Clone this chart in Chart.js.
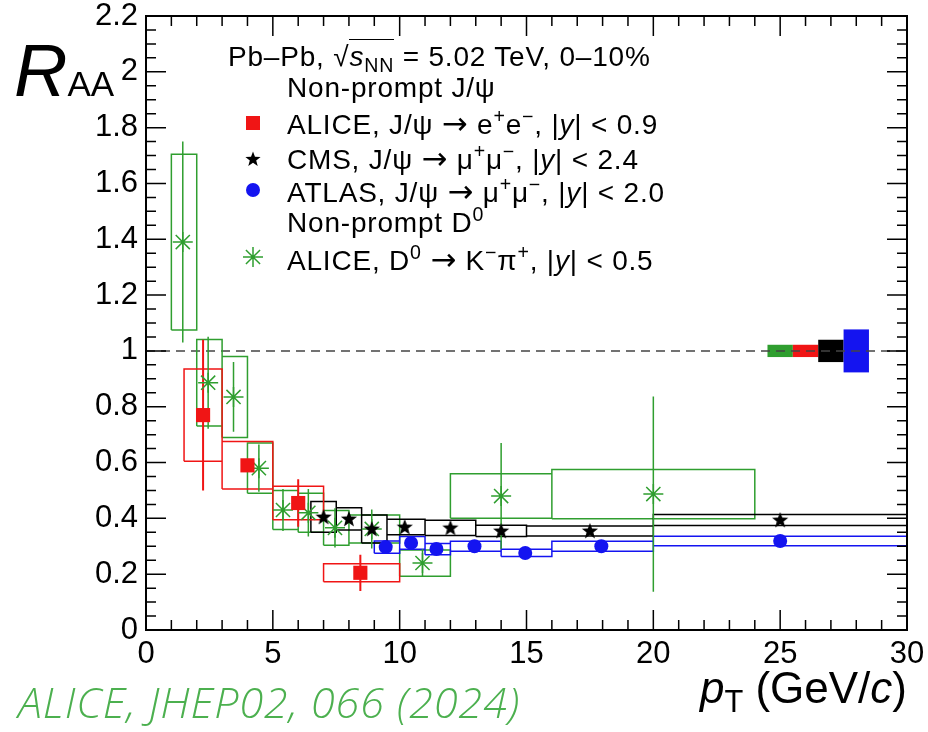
<!DOCTYPE html>
<html lang="en">
<head>
<meta charset="UTF-8">
<title>Non-prompt J/psi and D0 R_AA, Pb-Pb 5.02 TeV</title>
<script src="https://cdn.jsdelivr.net/npm/chart.js"></script>
<style>
  body { margin: 0; background: #fff; }
  #wrap { position: relative; width: 928px; height: 732px; font-family: "Liberation Sans", Arial, sans-serif; color: #000; }
  #chart { position: absolute; left: 0; top: 0; }
  .t { position: absolute; white-space: nowrap; line-height: 1; }
  .leg { font-size: 28px; letter-spacing: 0.8px; }
  .arr { font-family: "DejaVu Sans", sans-serif; font-size: 1.1em; }
  sup, sub { font-size: 0.7em; line-height: 0; position: relative; vertical-align: baseline; }
  sup { top: -0.55em; }
  sub { top: 0.3em; }
  .ov { border-top: 1.5px solid #000; padding-top: 1px; }
  .mk { position: absolute; }
</style>
</head>
<body>
<div id="wrap">
  <canvas id="chart" width="928" height="732"></canvas>

  <div class="t" style="left:14px; top:34px; font-size:74px;"><i>R</i><span style="font-size:35px;">AA</span></div>

  <div class="t leg" style="left:228px; top:43px;">Pb–Pb, √<span class="ov"><i>s</i><sub>NN</sub></span> = 5.02 TeV, 0–10%</div>
  <div class="t leg" style="left:287px; top:74px;">Non-prompt J/ψ</div>
  <div class="t leg" style="left:287px; top:108px;">ALICE, J/ψ <span class="arr">→</span> e<sup>+</sup>e<sup>−</sup>, |<i>y</i>| &lt; 0.9</div>
  <div class="t leg" style="left:287px; top:143px;">CMS, J/ψ <span class="arr">→</span> μ<sup>+</sup>μ<sup>−</sup>, |<i>y</i>| &lt; 2.4</div>
  <div class="t leg" style="left:287px; top:176px;">ATLAS, J/ψ <span class="arr">→</span> μ<sup>+</sup>μ<sup>−</sup>, |<i>y</i>| &lt; 2.0</div>
  <div class="t leg" style="left:287px; top:209px;">Non-prompt D<sup>0</sup></div>
  <div class="t leg" style="left:287px; top:244px;">ALICE, D<sup>0</sup> <span class="arr">→</span> K<sup>−</sup>π<sup>+</sup>, |<i>y</i>| &lt; 0.5</div>

  <div class="mk" style="left:246px; top:116px; width:14px; height:14px; background:#f01515;"></div>
  <canvas class="mk" id="legStar" width="18" height="18" style="left:244px; top:150px;"></canvas>
  <div class="mk" style="left:246px; top:183px; width:14px; height:14px; border-radius:50%; background:#1414f0;"></div>
  <canvas class="mk" id="legAst" width="22" height="22" style="left:242px; top:246px;"></canvas>

  <div class="t" style="right:21px; top:666px; font-size:44px;"><i>p</i><sub>T</sub> (GeV/<i>c</i>)</div>
  <div class="t" style="left:18px; top:680px; font-size:43px; letter-spacing:1px; font-family:'Open Sans', sans-serif; font-style:italic; font-weight:300; color:#4cb04f;">ALICE, JHEP02, 066 (2024)</div>
</div>

<script>
// ALICE non-prompt J/psi -> e+e-, |y| < 0.9
const aliceJpsiPt   = [2.25, 4.0, 6.0, 8.45];
const aliceJpsiLo   = [1.5, 3.0, 5.0, 7.0];
const aliceJpsiHi   = [3.0, 5.0, 7.0, 10.0];
const aliceJpsiRaa  = [0.77, 0.59, 0.455, 0.205];
const aliceJpsiStat = [0.27, 0.02, 0.085, 0.065];
const aliceJpsiSyst = [0.165, 0.085, 0.06, 0.032];

// CMS non-prompt J/psi -> mu+mu-, |y| < 2.4
const cmsPt   = [7.0, 8.0, 8.9, 10.2, 12.0, 14.0, 17.5, 25.0];
const cmsLo   = [6.5, 7.5, 8.5, 9.5, 11.0, 13.0, 15.0, 20.0];
const cmsHi   = [7.5, 8.5, 9.5, 11.0, 13.0, 15.0, 20.0, 30.0];
const cmsRaa  = [0.405, 0.398, 0.362, 0.369, 0.366, 0.355, 0.355, 0.394];
const cmsSyst = [0.055, 0.04, 0.05, 0.028, 0.027, 0.02, 0.018, 0.02];

// ATLAS non-prompt J/psi -> mu+mu-, |y| < 2.0
const atlasPt   = [9.45, 10.45, 11.45, 12.95, 14.95, 17.95, 25.0];
const atlasLo   = [9.0, 10.0, 11.0, 12.0, 14.0, 16.0, 20.0];
const atlasHi   = [10.0, 11.0, 12.0, 14.0, 16.0, 20.0, 30.0];
const atlasRaa  = [0.297, 0.312, 0.29, 0.30, 0.276, 0.30, 0.319];
const atlasSyst = [0.022, 0.023, 0.02, 0.018, 0.013, 0.018, 0.017];

// ALICE non-prompt D0 -> K-pi+, |y| < 0.5
const aliceD0Pt   = [1.45, 2.45, 3.45, 4.45, 5.4, 6.4, 7.45, 8.9, 10.9, 14.0, 20.0];
const aliceD0Lo   = [1, 2, 3, 4, 5, 6, 7, 8, 10, 12, 16];
const aliceD0Hi   = [2, 3, 4, 5, 6, 7, 8, 10, 12, 16, 24];
const aliceD0Raa  = [1.39, 0.886, 0.835, 0.58, 0.43, 0.42, 0.366, 0.362, 0.24, 0.48, 0.487];
const aliceD0Stat = [0.36, 0.165, 0.125, 0.085, 0.075, 0.085, 0.07, 0.07, 0.05, 0.19, 0.35];
const aliceD0Syst = [0.315, 0.155, 0.145, 0.09, 0.07, 0.07, 0.062, 0.05, 0.047, 0.08, 0.088];

// global normalisation uncertainties drawn at R_AA = 1 (D0, ALICE J/psi, CMS, ATLAS)
const globalLo  = [24.5, 25.5, 26.5, 27.5];
const globalHi  = [25.5, 26.5, 27.5, 28.5];
const globalUnc = [0.022, 0.022, 0.04, 0.077];

const RED = '#f01515', BLACK = '#000000', BLUE = '#1414f0', GREEN = '#2f9e2f';
const globalColors = [GREEN, RED, BLACK, BLUE];

function boxPts(lo, hi, yc, h) {
  const pts = [];
  lo.forEach((l, i) => {
    const a = yc[i] - h[i], b = yc[i] + h[i];
    pts.push({x: l, y: a}, {x: hi[i], y: a}, {x: hi[i], y: b}, {x: l, y: b}, {x: l, y: a}, {x: l, y: null});
  });
  return pts;
}
function barPts(xs, yc, e) {
  const pts = [];
  xs.forEach((x, i) => pts.push({x: x, y: yc[i] - e[i]}, {x: x, y: yc[i] + e[i]}, {x: x, y: null}));
  return pts;
}
function pointPts(xs, ys) { return xs.map((x, i) => ({x: x, y: ys[i]})); }

function lineSet(data, color, order, width) {
  return { type: 'line', data: data, borderColor: color, borderWidth: width || 1.5, pointRadius: 0,
           fill: false, tension: 0, spanGaps: false, order: order };
}

// filled five-point star marker (CMS)
function drawStar(ctx, cx, cy, r) {
  ctx.beginPath();
  for (let k = 0; k < 10; k++) {
    const rr = k % 2 === 0 ? r : r * 0.42;
    const a = -Math.PI / 2 + k * Math.PI / 5;
    ctx.lineTo(cx + rr * Math.cos(a), cy + rr * Math.sin(a));
  }
  ctx.closePath();
  ctx.fillStyle = '#000';
  ctx.fill();
}
const starImg = document.createElement('canvas');
starImg.width = 18; starImg.height = 18;
drawStar(starImg.getContext('2d'), 9, 9.5, 8.5);
drawStar(document.getElementById('legStar').getContext('2d'), 9, 9.5, 8);

(function () {
  const c = document.getElementById('legAst').getContext('2d');
  c.strokeStyle = GREEN; c.lineWidth = 1.5;
  c.beginPath();
  for (let k = 0; k < 4; k++) {
    const a = k * Math.PI / 4;
    c.moveTo(11 - 10 * Math.cos(a), 11 - 10 * Math.sin(a));
    c.lineTo(11 + 10 * Math.cos(a), 11 + 10 * Math.sin(a));
  }
  c.stroke();
})();

const globalBoxes = {
  id: 'globalBoxes',
  beforeDatasetsDraw(chart) {
    const {ctx, scales: {x, y}} = chart;
    ctx.save();
    globalLo.forEach((l, i) => {
      const x0 = x.getPixelForValue(l), x1 = x.getPixelForValue(globalHi[i]);
      const y0 = y.getPixelForValue(1 + globalUnc[i]), y1 = y.getPixelForValue(1 - globalUnc[i]);
      ctx.fillStyle = globalColors[i];
      ctx.fillRect(x0, y0, x1 - x0, y1 - y0);
    });
    ctx.restore();
  }
};

const frame = {
  id: 'frame',
  afterDatasetsDraw(chart) {
    const {ctx, chartArea: a, scales: {x, y}} = chart;
    ctx.save();
    ctx.strokeStyle = '#000';
    ctx.lineWidth = 1.5;
    ctx.beginPath();
    for (let v = 0; v <= 30; v++) {
      const px = x.getPixelForValue(v), len = v % 5 === 0 ? 20 : 10;
      ctx.moveTo(px, a.bottom); ctx.lineTo(px, a.bottom - len);
      ctx.moveTo(px, a.top); ctx.lineTo(px, a.top + len);
    }
    for (let k = 0; k <= 44; k++) {
      const py = y.getPixelForValue(k * 0.05), len = k % 4 === 0 ? 20 : 10;
      ctx.moveTo(a.left, py); ctx.lineTo(a.left + len, py);
      ctx.moveTo(a.right, py); ctx.lineTo(a.right - len, py);
    }
    ctx.stroke();
    ctx.lineWidth = 2;
    ctx.strokeRect(a.left, a.top, a.right - a.left, a.bottom - a.top);
    ctx.restore();
  }
};

new Chart(document.getElementById('chart'), {
  type: 'scatter',
  data: {
    datasets: [
      // markers
      { data: pointPts(aliceJpsiPt, aliceJpsiRaa), pointStyle: 'rect', pointRadius: 10, backgroundColor: RED, borderColor: RED, borderWidth: 0, order: 0 },
      { data: pointPts(atlasPt, atlasRaa), pointStyle: 'circle', pointRadius: 7, backgroundColor: BLUE, borderColor: BLUE, borderWidth: 0, order: 0 },
      { data: pointPts(cmsPt, cmsRaa), pointStyle: starImg, order: 0 },
      { data: pointPts(aliceD0Pt, aliceD0Raa), pointStyle: 'star', pointRadius: 10, borderColor: GREEN, borderWidth: 1.5, order: 0 },
      // statistical errors
      lineSet(barPts(aliceJpsiPt, aliceJpsiRaa, aliceJpsiStat), RED, 1, 2),
      lineSet(barPts(aliceD0Pt, aliceD0Raa, aliceD0Stat), GREEN, 1, 1.5),
      // systematic boxes
      lineSet(boxPts(aliceJpsiLo, aliceJpsiHi, aliceJpsiRaa, aliceJpsiSyst), RED, 2),
      lineSet(boxPts(cmsLo, cmsHi, cmsRaa, cmsSyst), BLACK, 2),
      lineSet(boxPts(atlasLo, atlasHi, atlasRaa, atlasSyst), BLUE, 2),
      lineSet(boxPts(aliceD0Lo, aliceD0Hi, aliceD0Raa, aliceD0Syst), GREEN, 2),
      // unity reference
      Object.assign(lineSet([{x: 0, y: 1}, {x: 30, y: 1}], '#444', 3, 1.5), { borderDash: [9, 6] })
    ]
  },
  options: {
    responsive: false,
    devicePixelRatio: 1,
    animation: false,
    layout: { padding: { top: 16, right: 21, left: 0, bottom: 0 } },
    plugins: { legend: { display: false }, tooltip: { enabled: false } },
    scales: {
      x: {
        type: 'linear', min: 0, max: 30,
        grid: { display: false, drawTicks: false }, border: { display: false },
        ticks: { stepSize: 5, autoSkip: false, maxRotation: 0, padding: 6, color: '#000',
                 font: { family: 'Liberation Sans', size: 31 } },
        afterFit(s) { s.height = 102; s.paddingLeft = 0; s.paddingRight = 0; }
      },
      y: {
        type: 'linear', min: 0, max: 2.2,
        grid: { display: false, drawTicks: false }, border: { display: false },
        ticks: { stepSize: 0.2, autoSkip: false, padding: 8, color: '#000',
                 font: { family: 'Liberation Sans', size: 31 },
                 callback: v => String(+v.toFixed(1)) },
        afterFit(s) { s.width = 146; s.paddingTop = 0; s.paddingBottom = 0; }
      }
    }
  },
  plugins: [globalBoxes, frame]
});
</script>
</body>
</html>
